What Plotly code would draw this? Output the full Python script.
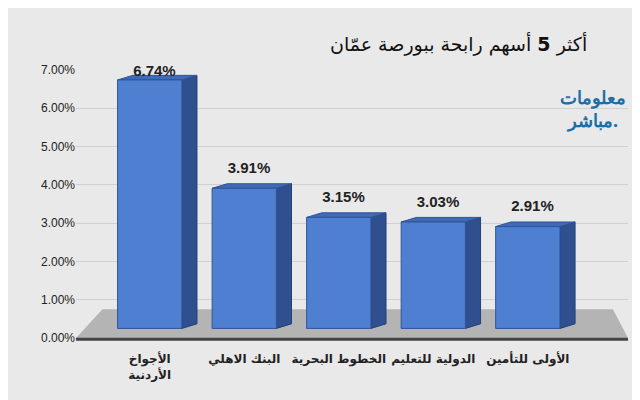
import plotly.graph_objects as go

categories = ["<b>الأجواخ<br>الأردنية</b>", "<b>البنك الاهلي</b>", "<b>الخطوط البحرية</b>",
              "<b>الدولية للتعليم</b>", "<b>الأولى للتأمين</b>"]
values = [6.74, 3.91, 3.15, 3.03, 2.91]
labels = ["<b>6.74%</b>", "<b>3.91%</b>", "<b>3.15%</b>", "<b>3.03%</b>", "<b>2.91%</b>"]

xs = list(range(len(values)))
w = 0.34   # half width of front face
dx, dy = 0.16, 0.12  # depth offset

fig = go.Figure()

# floor
fig.add_trace(go.Scatter(x=[-0.78, 5.06, 4.9, -0.5, -0.78], y=[0, 0, 0.75, 0.75, 0],
                         fill="toself", fillcolor="#b4b4b4", line=dict(width=0),
                         mode="lines", hoverinfo="skip"))

for x, v in zip(xs, values):
    # side face
    fig.add_trace(go.Scatter(x=[x + w, x + w + dx, x + w + dx, x + w, x + w],
                             y=[0.25, 0.25 + dy, v + dy, v, 0.25], fill="toself",
                             fillcolor="#2f4f8f", line=dict(color="#23407a", width=1),
                             mode="lines", hoverinfo="skip"))
    # top face
    fig.add_trace(go.Scatter(x=[x - w, x - w + dx, x + w + dx, x + w, x - w],
                             y=[v, v + dy, v + dy, v, v], fill="toself",
                             fillcolor="#3f6ab8", line=dict(color="#2f5597", width=1),
                             mode="lines", hoverinfo="skip"))
    # front face
    fig.add_trace(go.Scatter(x=[x - w, x + w, x + w, x - w, x - w],
                             y=[0.25, 0.25, v, v, 0.25], fill="toself",
                             fillcolor="#4f7fd0", line=dict(color="#2f5597", width=1),
                             mode="lines", hoverinfo="skip"))

fig.add_trace(go.Scatter(x=[x + 0.05 for x in xs], y=[min(v + 0.5, 6.93) for v in values],
                         mode="text", text=labels, textposition="middle center", cliponaxis=False,
                         textfont=dict(size=15, color="#222", family="Liberation Sans"),
                         hoverinfo="skip"))

fig.update_layout(
    width=640, height=400, showlegend=False,
    margin=dict(l=68, r=20, t=62, b=70),
    paper_bgcolor="#e9e9e9", plot_bgcolor="rgba(0,0,0,0)",
    font=dict(family="Liberation Sans", color="#222"),
    xaxis=dict(range=[-0.78, 5.06], tickvals=xs, ticktext=categories, showgrid=False,
               zeroline=False, ticks="outside", ticklen=10, tickcolor="rgba(0,0,0,0)",
               tickangle=0, automargin=False,
               tickfont=dict(size=12, family="DejaVu Sans")),
    yaxis=dict(range=[0, 7], dtick=1, tickformat=".2f", ticksuffix="%", showgrid=True,
               gridcolor="#d0d0d0", zeroline=False, tickfont=dict(size=12)),
    shapes=[dict(type="line", xref="x", yref="paper", x0=-0.78, x1=5.06, y0=-0.005, y1=-0.005,
                 line=dict(color="#444", width=3))],
    annotations=[
        dict(text="أكثر <b>5</b> أسهم رابحة ببورصة عمّان", xref="paper", yref="paper",
             x=0.93, y=1.15, xanchor="right", showarrow=False,
             font=dict(size=19, family="DejaVu Sans", color="#111")),
        dict(text="<b>معلومات<br>مباشر.</b>", xref="paper", yref="paper",
             x=1.0, y=0.95, xanchor="right", showarrow=False,
             font=dict(size=18, family="Noto Sans", color="#1b6fa8")),
    ],
)

fig.write_html("out.html")
